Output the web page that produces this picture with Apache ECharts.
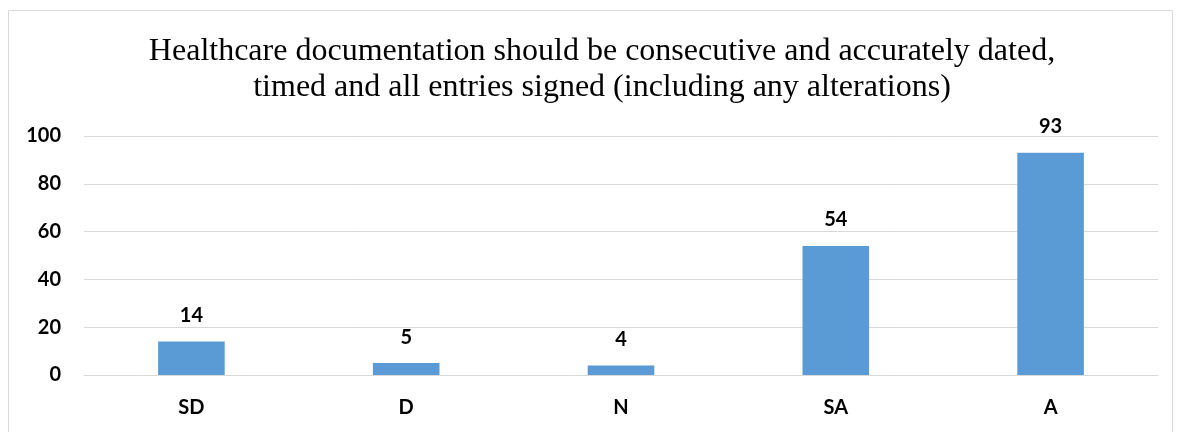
<!DOCTYPE html>
<html>
<head>
<meta charset="utf-8">
<script src="https://cdn.jsdelivr.net/npm/echarts@6/dist/echarts.min.js"></script>
<style>
html,body{margin:0;padding:0;background:#fff;}
#c{width:1180px;height:432px;}
</style>
</head>
<body>
<div id="c"></div>
<script>
const titleLines = ["Healthcare documentation should be consecutive and accurately dated,", "timed and all entries signed (including any alterations)"];
const categories = ["SD", "D", "N", "SA", "A"];
const values = [14, 5, 4, 54, 93];
const yTicks = {min: 0, max: 100, interval: 20};

const chart = echarts.init(document.getElementById('c'), null, {renderer: 'canvas'});
chart.setOption({
  animation: false,
  backgroundColor: '#ffffff',
  title: {
    text: titleLines.join('\n'),
    left: 597,
    textAlign: 'center',
    top: 29,
    textStyle: {
      fontFamily: '"Liberation Serif", "Times New Roman", serif',
      fontSize: 32,
      fontWeight: 'normal',
      color: '#000',
      lineHeight: 36
    }
  },
  graphic: [{
    type: 'rect',
    shape: {x: 8.5, y: 10.5, width: 1164, height: 440},
    style: {fill: 'none', stroke: '#d9d9d9', lineWidth: 1},
    silent: true
  }],
  grid: {left: 84, right: 22, top: 136, bottom: 57},
  xAxis: {
    type: 'category',
    data: categories,
    axisLine: {show: true, lineStyle: {color: '#d9d9d9', width: 1}},
    axisTick: {show: false},
    axisLabel: {
      margin: 23,
      fontFamily: 'Lato, "Open Sans", sans-serif',
      fontWeight: 'bold',
      fontSize: 20,
      color: '#000'
    }
  },
  yAxis: {
    type: 'value',
    min: yTicks.min,
    max: yTicks.max,
    interval: yTicks.interval,
    axisLine: {show: false},
    axisTick: {show: false},
    splitLine: {lineStyle: {color: '#d9d9d9', width: 1}},
    axisLabel: {
      margin: 23,
      fontFamily: 'Lato, "Open Sans", sans-serif',
      fontWeight: 'bold',
      fontSize: 20,
      color: '#000'
    }
  },
  series: [{
    type: 'bar',
    data: values,
    barWidth: '31%',
    itemStyle: {color: '#5b9bd5'},
    label: {
      show: true,
      position: 'top',
      distance: 16,
      fontFamily: 'Lato, "Open Sans", sans-serif',
      fontWeight: 'bold',
      fontSize: 20,
      color: '#000'
    }
  }]
});
</script>
</body>
</html>
